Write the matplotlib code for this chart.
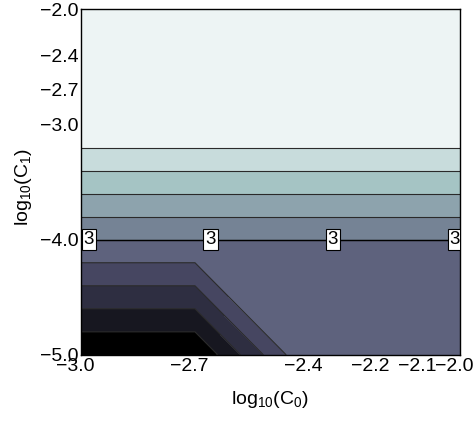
import numpy as np
import matplotlib
matplotlib.use('Agg')
import matplotlib.pyplot as plt
import matplotlib.transforms as mtransforms

plt.rcParams['font.family'] = ['Liberation Sans', 'DejaVu Sans']
plt.rcParams['mathtext.fontset'] = 'custom'
plt.rcParams['mathtext.rm'] = 'Liberation Sans'
plt.rcParams['mathtext.default'] = 'regular'

# grid in log10 space (C0 along x, C1 along y)
c0 = [0.001, 0.002, 0.004, 0.006, 0.008, 0.01]
c1 = [1e-5, 1e-4, 1e-3, 0.002, 0.004, 0.01]
# values, rows follow c1, columns follow c0
z = [[0, 0, 3, 3, 3, 3],
     [3, 3, 3, 3, 3, 3],
     [6, 6, 6, 6, 6, 6],
     [6, 6, 6, 6, 6, 6],
     [6, 6, 6, 6, 6, 6],
     [6, 6, 6, 6, 6, 6]]
levels = np.linspace(0, 6, 11)
label_level = [3]
label_x = [-2.979, -2.658, -2.335, -2.013]

x = np.log10(c0)
y = np.log10(c1)
X, Y = np.meshgrid(x, y)
Z = np.array(z, dtype=float)


def fmt(v):
    return ('%.1f' % v).replace('-', '\u2212')


fig = plt.figure(figsize=(4.76, 4.24), dpi=100)
ax = fig.add_axes([0.170, 0.163, 0.796, 0.815])

ax.contourf(X, Y, Z, levels=levels, cmap='bone', vmin=0.3, vmax=6.0)
ax.contour(X, Y, Z, levels=levels, colors='#2a2a2a', linewidths=0.8)
cs = ax.contour(X, Y, Z, levels=label_level, colors='black', linewidths=1.0)
texts = ax.clabel(cs, fmt='%d', fontsize=13.5, inline=False,
                  manual=[(lx, -4.0) for lx in label_x])
for t in texts:
    t.set_bbox(dict(boxstyle='square,pad=0.1', facecolor='white',
                    edgecolor='black', linewidth=0.8))

ax.set_xlim(-3.0, -2.0)
ax.set_ylim(-5.0, -2.0)
ax.set_xticks(x)
ax.set_xticklabels([fmt(v) for v in x])
ax.set_yticks(y)
ax.set_yticklabels([fmt(v) for v in y])
ax.tick_params(length=0, pad=2, labelsize=14)

# x tick labels sit a little left of their ticks in the original
shift = mtransforms.ScaledTranslation(-0.06, 0, fig.dpi_scale_trans)
for lab in ax.get_xticklabels():
    lab.set_transform(lab.get_transform() + shift)

ax.set_xlabel(r'log$_{10}$(C$_0$)', fontsize=14, labelpad=10)
ax.set_ylabel(r'log$_{10}$(C$_1$)', fontsize=14)
ax.yaxis.set_label_coords(-0.125, 0.485)
for s in ax.spines.values():
    s.set_color('black')
    s.set_linewidth(1.0)

plt.savefig('out.png', dpi=100)
